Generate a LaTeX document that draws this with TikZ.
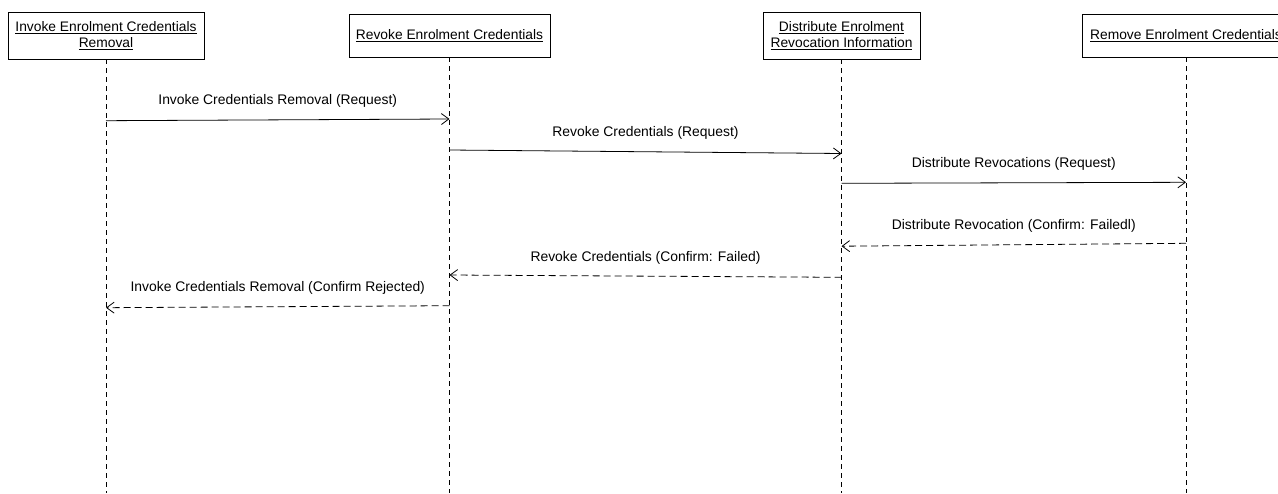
\documentclass[tikz,border=0pt]{standalone}
\usepackage{fontspec}
\setmainfont{Liberation Sans}
\usetikzlibrary{arrows.meta}
\tikzset{
  x=1pt, y=1pt,
  part/.style={draw=black, line width=0.8pt, fill=white, inner sep=0pt,
               align=center, font=\fontsize{13.8}{16.5}\selectfont},
  lifeline/.style={draw=black, line width=0.7pt, dash pattern=on 5pt off 4pt},
  msg/.style={draw=black, line width=0.8pt, -{Straight Barb[length=7.5pt,width=11pt]}},
  reply/.style={msg, dash pattern=on 7pt off 4pt},
  lbl/.style={midway, yshift=18.5pt, inner sep=0pt, font=\fontsize{13.9}{16}\selectfont}
}
\begin{document}
\begin{tikzpicture}
\useasboundingbox (0,0) rectangle (1278,-493);
\clip (0,0) rectangle (1278,-493);

% participants
\node[part, minimum width=196pt, minimum height=47pt] (p1) at (106,-35.5)
  {\underline{Invoke Enrolment Credentials}\\\underline{Removal}};
\node[part, minimum width=201pt, minimum height=43pt] (p2) at (449.5,-35.5)
  {\underline{Revoke Enrolment Credentials}};
\node[part, minimum width=157pt, minimum height=47pt] (p3) at (841.5,-35.5)
  {\underline{Distribute Enrolment}\\\underline{Revocation Information}};
\node[part, minimum width=208pt, minimum height=43pt] (p4) at (1186,-35.5)
  {\underline{Remove Enrolment Credentials}};

% lifelines
\coordinate (e1) at (106,-493);
\coordinate (e2) at (449.5,-493);
\coordinate (e3) at (841.5,-493);
\coordinate (e4) at (1186,-493);
\draw[lifeline] (p1.south) -- (e1);
\draw[lifeline] (p2.south) -- (e2);
\draw[lifeline] (p3.south) -- (e3);
\draw[lifeline] (p4.south) -- (e4);

% message end points on the lifelines
\coordinate (a1) at (106,-120.7);   \coordinate (b1) at (449.5,-119);
\coordinate (a2) at (449.5,-150);   \coordinate (b2) at (841.5,-153.5);
\coordinate (a3) at (841.5,-183.3); \coordinate (b3) at (1186,-182.3);
\coordinate (a4) at (1186,-243.3);  \coordinate (b4) at (841.5,-246.2);
\coordinate (a5) at (841.5,-277.3); \coordinate (b5) at (449.5,-275);
\coordinate (a6) at (449.5,-305.7); \coordinate (b6) at (106,-307.7);

% requests
\draw[msg] (a1) -- node[lbl] (t1) {Invoke Credentials Removal (Request)} (b1);
\draw[msg] (a2) -- node[lbl] (t2) {Revoke Credentials (Request)} (b2);
\draw[msg] (a3) -- node[lbl] (t3) {Distribute Revocations (Request)} (b3);

% confirmations
\draw[reply] (a4) -- node[lbl] (t4) {Distribute Revocation (Confirm: Failedl)} (b4);
\draw[reply] (a5) -- node[lbl] (t5) {Revoke Credentials (Confirm: Failed)} (b5);
\draw[reply] (a6) -- node[lbl] (t6) {Invoke Credentials Removal (Confirm Rejected)} (b6);
\end{tikzpicture}
\end{document}
